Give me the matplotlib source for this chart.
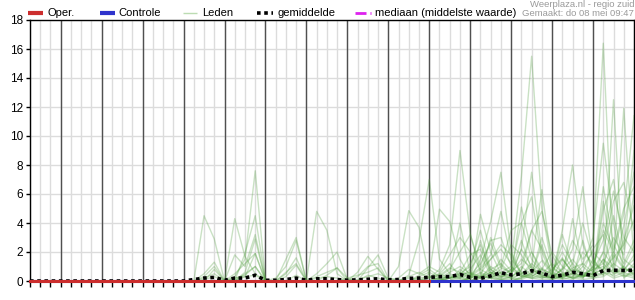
import numpy as np
import matplotlib.pyplot as plt
from matplotlib.lines import Line2D

plt.rcParams['font.family'] = ['Liberation Sans', 'DejaVu Sans']
plt.rcParams['font.size'] = 8

# time axis: hours since Do 8 00:00, 6-hourly steps (Do 8 06:00 .. Vr 23 00:00)
hours = np.arange(6, 361, 6)
day_starts = np.arange(24, 337, 24)
day_noons = np.arange(12, 349, 24)
day_labels = ['Do 8', 'Vr 9', 'Za 10', 'Zo 11', 'Ma 12', 'Di 13', 'Wo 14',
              'Do 15', 'Vr 16', 'Za 17', 'Zo 18', 'Ma 19', 'Di 20', 'Wo 21', 'Do 22']

# operational run (until Zo 18 00:00) and control run, mm per 6 h
oper = [0.0] * 40
controle = [0.0] * 60
mediaan = [0.0] * 60

gemiddelde = [0, 0, 0, 0, 0, 0, 0, 0, 0, 0, 0, 0, 0, 0, 0,
              0.0, 0.1, 0.2, 0.25, 0.05, 0.2, 0.2, 0.4, 0.05, 0.05, 0.1, 0.2,
              0.05, 0.15, 0.15, 0.1, 0.05, 0.08, 0.12, 0.15, 0.08, 0.1, 0.18, 0.2,
              0.25, 0.3, 0.3, 0.45, 0.25, 0.18, 0.35, 0.57, 0.42, 0.5, 0.71, 0.55,
              0.3, 0.4, 0.6, 0.5, 0.37, 0.72, 0.74, 0.73, 0.74]

# ensemble members from Ma 12 00:00 onwards (earlier steps are all 0)
leden_start = 15
m01 = [0, 0, 4.5, 2.9, 0, 0, 0, 0, 0, 0, 0, 0, 0, 0, 0, 0, 0, 0, 0, 0, 0, 0, 0, 0,
       0, 0, 0.2, 0.5, 0.3, 0.8, 1.5, 2.2, 1.2, 7.2, 15.5, 5.0, 0.8, 1.5, 0.6, 0.3,
       1.0, 3.5, 2.0, 4.6, 11.4]
m02 = [0, 0, 0.5, 1.3, 0, 0.2, 0.4, 1.0, 0, 0, 0, 0, 0, 0, 0, 0, 0, 0, 0, 0, 0, 0, 0, 0,
       0.3, 0.1, 0, 0.4, 1.2, 2.5, 0.8, 0.3, 0.5, 2.2, 1.0, 0.4, 0.2, 0.9, 2.8, 1.5,
       2.5, 16.4, 0.7, 0.3, 0.5]
m03 = [0, 0, 0.3, 1.0, 0, 0, 0, 0, 0, 0, 1.5, 3.0, 0, 0, 0, 0, 0, 0, 0, 0, 0, 0, 0, 0,
       0, 0.5, 1.2, 0.3, 0, 0.2, 3.0, 1.1, 0.4, 5.1, 2.0, 0.8, 0.5, 0.3, 1.2, 4.0,
       1.5, 0.4, 12.5, 0.2, 0.8]
m04 = [0, 0, 0, 0.8, 0, 0, 0.6, 2.9, 0, 0, 0, 0, 0, 0, 0.4, 0.9, 0.2, 0, 0, 0, 0, 0, 0, 0.3,
       0.6, 0.2, 0, 0.8, 0.3, 0, 0.5, 0.2, 0.8, 4.0, 5.8, 1.5, 0.6, 2.0, 0.8, 0.4,
       0.3, 5.5, 1.2, 11.9, 1.4]
m05 = [0, 0, 0.2, 0.5, 0, 0, 0, 0, 0, 0.2, 1.0, 2.8, 0, 0, 0, 0, 0, 0, 0, 0, 0, 0, 0, 0,
       0, 0, 0, 0.2, 0.8, 1.8, 0.4, 0.1, 0.3, 0.7, 3.5, 4.8, 1.8, 0.5, 0.2, 2.8,
       0.5, 4.9, 7.0, 2.2, 9.0]
m06 = [0, 0, 0, 0, 0, 4.3, 1.7, 0.5, 0, 0, 0, 0, 0, 4.8, 3.5, 0.5, 0, 0, 0, 0, 0, 0, 0, 0,
       0, 0.3, 0.8, 2.0, 3.2, 1.0, 2.8, 3.0, 1.0, 0.3, 0.5, 2.5, 0.4, 3.5, 8.0, 2.5,
       0.8, 1.2, 3.0, 1.8, 6.0]
m07 = [0, 0, 0, 0, 0, 0.3, 1.5, 7.6, 0, 0, 0, 0, 0, 0, 0, 0, 0, 0, 0, 0, 0, 0, 0, 0,
       0, 0, 0.5, 4.0, 0.5, 0.2, 0.3, 0.8, 2.5, 1.8, 0.6, 0.2, 0.3, 0.8, 2.2, 6.5,
       1.2, 2.8, 6.2, 3.0, 2.0]
m08 = [0, 0, 0, 0, 0, 0, 1.9, 4.5, 0, 0, 0, 0, 0, 0, 0, 0, 0, 0, 0, 0, 0, 0, 0, 0,
       0, 0, 0, 0, 0.2, 4.6, 2.0, 0.5, 0.4, 2.2, 7.5, 2.0, 0.3, 0.2, 0.5, 1.2,
       3.0, 9.5, 4.0, 0.6, 0.3]
m09 = [0, 0, 0, 0, 0, 1.8, 1.0, 3.2, 0, 0, 0, 0, 0, 0, 0, 0, 0, 0, 0, 0, 0, 0, 0, 0,
       0, 0, 0, 0, 0, 0.3, 0.6, 0.2, 0.1, 0.5, 1.0, 6.3, 1.0, 0.4, 0.2, 0.5,
       0.8, 2.0, 5.5, 6.8, 3.5]
m10 = [0, 0, 0, 0, 0, 0, 0.3, 1.9, 0, 0, 0.5, 1.6, 0, 0, 0, 0, 0, 0, 0, 0, 0, 0, 0, 0,
       0.2, 0.8, 2.5, 9.0, 3.3, 0.5, 0.2, 0.1, 0, 0.3, 0.8, 0.4, 0.2, 1.5, 0.6, 0.3,
       0.5, 0.8, 1.6, 2.5, 4.2]
m11 = [0, 0, 0, 0, 0, 0.5, 1.2, 1.9, 0, 0, 0.3, 1.1, 0, 0, 0, 0, 0, 0, 0, 0, 0, 0, 0, 0,
       0, 0.2, 0.3, 0.1, 0.1, 1.5, 4.1, 7.5, 2.0, 0.5, 1.2, 0.6, 0.3, 0.2, 4.3, 1.0,
       2.0, 1.2, 0.5, 3.8, 7.5]
m12 = [0, 0, 0, 0, 0, 0, 0, 0, 0, 0, 0.6, 1.2, 0, 0.5, 1.2, 2.0, 0.1, 0, 0, 0, 0, 0, 0, 0,
       0, 0, 0, 0, 0.2, 2.8, 0.5, 1.0, 3.5, 4.0, 1.5, 0.6, 0.2, 0.1, 0.3, 1.0,
       0.4, 6.5, 2.5, 1.2, 2.8]
m13 = [0, 0, 0, 0, 0, 0, 0, 0, 0, 0, 0, 0, 0, 0.3, 0.6, 0.9, 0, 0.6, 1.7, 0.8, 0, 0, 0, 0,
       0.5, 4.95, 4.1, 1.5, 0.3, 0.2, 1.0, 0.5, 0.2, 1.0, 0.4, 0.2, 0.5, 2.5, 1.2, 0.4,
       0.2, 0.5, 1.8, 0.8, 1.5]
m14 = [0, 0, 0, 0, 0, 0, 0, 0, 0, 0, 0, 0, 0, 0, 0, 0, 0, 0, 0.9, 1.8, 0.2, 0, 0, 0,
       0, 0, 0.2, 0.5, 1.0, 3.5, 0.8, 0.3, 0.8, 0.3, 0.2, 0.5, 1.2, 0.6, 0.3, 0.2,
       1.0, 4.0, 2.2, 5.0, 6.5]
m15 = [0, 0, 0, 0, 0, 0, 0, 0, 0, 0, 0, 0, 0, 0, 0, 0, 0, 0.3, 1.0, 1.2, 0, 1.0, 4.85, 3.7,
       0.3, 0.1, 0, 0, 0, 0.4, 0.2, 0, 0, 0.2, 0.6, 1.4, 0.4, 0.2, 0.1, 0.5,
       0.3, 0.6, 0.2, 0.4, 0.6]
m16 = [0, 0, 0, 0, 0, 0, 0, 0, 0, 0, 0, 0, 0, 0, 0, 0, 0.2, 0.4, 0.6, 0.9, 0, 0, 0.4, 2.8,
       7.0, 1.5, 0.5, 0.2, 0.4, 1.2, 2.6, 0.9, 0.6, 2.8, 0.8, 0.3, 0.2, 0.8, 1.5, 0.6,
       2.2, 3.2, 0.6, 1.0, 2.4]
m17 = [0, 0, 0, 0, 0, 0, 0, 0, 0, 0, 0, 0, 0, 0, 0, 0, 0, 0, 0, 0, 0, 0.2, 0.8, 0.5,
       1.0, 0.6, 1.8, 3.0, 2.0, 0.8, 0.4, 1.5, 0.7, 1.2, 3.5, 2.2, 0.6, 0.3, 0.5, 2.0,
       1.2, 0.8, 4.5, 1.5, 0.9]
m18 = [0, 0, 0, 0, 0, 0, 0, 0, 0, 0, 0, 0, 0, 0, 0, 0, 0, 0, 0, 0, 0, 0, 0.3, 0.6,
       0.2, 0.4, 0.9, 0.6, 0.4, 0.9, 1.8, 4.8, 1.5, 0.6, 0.3, 0.8, 2.0, 1.0, 0.4, 0.3,
       0.6, 1.5, 0.9, 0.5, 1.2]
m19 = [0, 0, 0, 0, 0, 0, 0, 0, 0, 0, 0, 0, 0, 0, 0, 0, 0, 0, 0, 0, 0, 0, 0, 0,
       0, 0, 0.4, 0.2, 0.2, 0.5, 1.5, 2.5, 1.8, 0.4, 0.2, 0.1, 0.1, 0.3, 0.8, 0.6,
       0.4, 2.0, 1.0, 2.8, 5.2]
m20 = [0, 0, 0, 0, 0, 0, 0, 0, 0, 0, 0, 0, 0, 0, 0, 0, 0, 0, 0, 0, 0, 0, 0, 0.4,
       0.8, 0.3, 0.2, 0.6, 1.8, 2.2, 0.6, 0.4, 0.2, 0.1, 0.4, 3.0, 0.9, 0.4, 0.2, 0.1,
       0.2, 0.3, 0.8, 0.4, 0.2]
m21 = [0, 0, 0, 0, 0, 0, 0, 0, 0, 0, 0, 0, 0, 0, 0, 0, 0, 0, 0, 0, 0, 0, 0, 0,
       0, 0, 0, 0, 0, 0, 0.2, 0.6, 0.3, 0.8, 2.0, 0.5, 0.2, 3.2, 1.0, 0.4,
       0.8, 1.0, 0.3, 0.6, 1.0]
m22 = [0, 0, 0, 0, 0, 0, 0, 0, 0, 0, 0, 0, 0, 0, 0, 0, 0, 0, 0, 0, 0, 0, 0, 0,
       0, 0, 0, 0, 0.2, 0.6, 0.3, 0.1, 0, 0.2, 0.5, 0.9, 0.4, 0.2, 0.6, 0.3,
       0.5, 0.8, 2.0, 0.9, 0.5]
m23 = [0, 0, 0.1, 0.3, 0, 0.2, 0.3, 0.4, 0, 0, 0, 0, 0, 0.2, 0.3, 0.2, 0, 0.1, 0.3, 0.5, 0.2, 0.1, 0, 0.2,
       0.3, 0.5, 0.2, 0.4, 0.6, 0.3, 0.8, 1.2, 0.5, 1.5, 0.9, 0.3, 0.1, 0.4, 0.9, 1.2,
       0.6, 0.4, 1.2, 0.7, 1.8]
m24 = [0, 0, 0, 0, 0, 0, 0.5, 1.0, 0, 0, 0, 0.4, 0, 0, 0, 0, 0, 0, 0.4, 0.2, 0, 0, 0.2, 0.1,
       0, 0.2, 0.6, 1.0, 0.5, 0.3, 0.2, 0.6, 1.0, 0.4, 0.2, 0.3, 0.8, 1.6, 0.5, 0.2,
       1.5, 0.6, 0.4, 1.0, 0.4]
m25 = [0, 0, 0, 0, 0, 0, 0, 0, 0, 0, 0, 0, 0, 0, 0, 0, 0, 0, 0, 0, 0, 0, 0, 0,
       0, 0.1, 0.2, 0.3, 0.4, 0.2, 0.6, 0.3, 0.2, 0.5, 0.3, 0.8, 0.3, 0.5, 0.2, 0.4,
       0.3, 1.5, 0.5, 0.8, 0.7]
leden = [m01, m02, m03, m04, m05, m06, m07, m08, m09, m10, m11, m12, m13,
         m14, m15, m16, m17, m18, m19, m20, m21, m22, m23, m24, m25]

red = '#cc2e2e'
blue = '#2e33cc'
green = '#4f9e3c'
magenta = '#dd22ee'


def main():
    fig = plt.figure(figsize=(6.35, 3.0), dpi=100)
    ax = fig.add_axes([30 / 635, 19 / 300, 604 / 635, 261 / 300])

    for m in leden:
        ax.plot(hours[leden_start:], m, color=green, lw=1, alpha=0.3, zorder=3)
    ax.plot(hours, mediaan, color=magenta, lw=2, ls='-.', zorder=4)
    ax.plot(hours, gemiddelde, color='black', lw=2.6, ls=(0, (1, 1)), zorder=5)
    ax.plot(hours, controle, color=blue, lw=2.2, zorder=6, clip_on=False)
    ax.plot(hours[:len(oper)], oper, color=red, lw=2.2, zorder=7, clip_on=False)

    for d in day_starts:
        ax.axvline(d, color='#505050', lw=1, zorder=2)

    ax.set_xlim(6, 360)
    ax.set_ylim(0, 18)
    ax.set_yticks(np.arange(0, 19, 2))
    ax.set_xticks(np.arange(6, 361, 6))
    ax.set_xticklabels([])
    ax.set_xticks(day_noons, minor=True)
    ax.set_xticklabels(day_labels, minor=True)
    ax.tick_params(axis='x', which='major', length=4, width=1, color='black')
    ax.tick_params(axis='x', which='minor', length=0, pad=5, labelsize=8)
    ax.tick_params(axis='y', length=3, width=1, pad=2, labelsize=8.5)
    ax.grid(True, which='major', color='#dcdcdc', lw=1, zorder=1)
    ax.set_axisbelow(True)
    for s in ax.spines.values():
        s.set_color('black')
        s.set_linewidth(1)

    # legend row across the top
    ly = 1 - 13 / 300
    def leg_line(x0, x1, **kw):
        fig.add_artist(Line2D([x0 / 635, x1 / 635], [ly, ly],
                              solid_capstyle='butt', **kw))
    leg_line(28, 43, color=red, lw=3)
    fig.text(47 / 635, ly, 'Oper.', va='center', fontsize=8)
    leg_line(100, 115, color=blue, lw=3)
    fig.text(118 / 635, ly, 'Controle', va='center', fontsize=8)
    leg_line(183, 197, color='#bcdcb2', lw=1)
    fig.text(202 / 635, ly, 'Leden', va='center', fontsize=8)
    leg_line(257, 273, color='black', lw=2.6, ls=(0, (1, 1)))
    fig.text(277 / 635, ly, 'gemiddelde', va='center', fontsize=8)
    leg_line(355, 366, color=magenta, lw=2)
    leg_line(369.5, 371, color=magenta, lw=2)
    fig.text(375 / 635, ly, 'mediaan (middelste waarde)', va='center', fontsize=8)

    fig.text(634 / 635, 1 - 4.5 / 300, 'Weerplaza.nl - regio zuid', ha='right',
             va='center', fontsize=6.8, color='#9a9a9a')
    fig.text(634 / 635, 1 - 14 / 300, 'Gemaakt: do 08 mei 09:47', ha='right',
             va='center', fontsize=6.8, color='#9a9a9a')

    fig.savefig('out.png', dpi=100)


if __name__ == "__main__":
    main()
